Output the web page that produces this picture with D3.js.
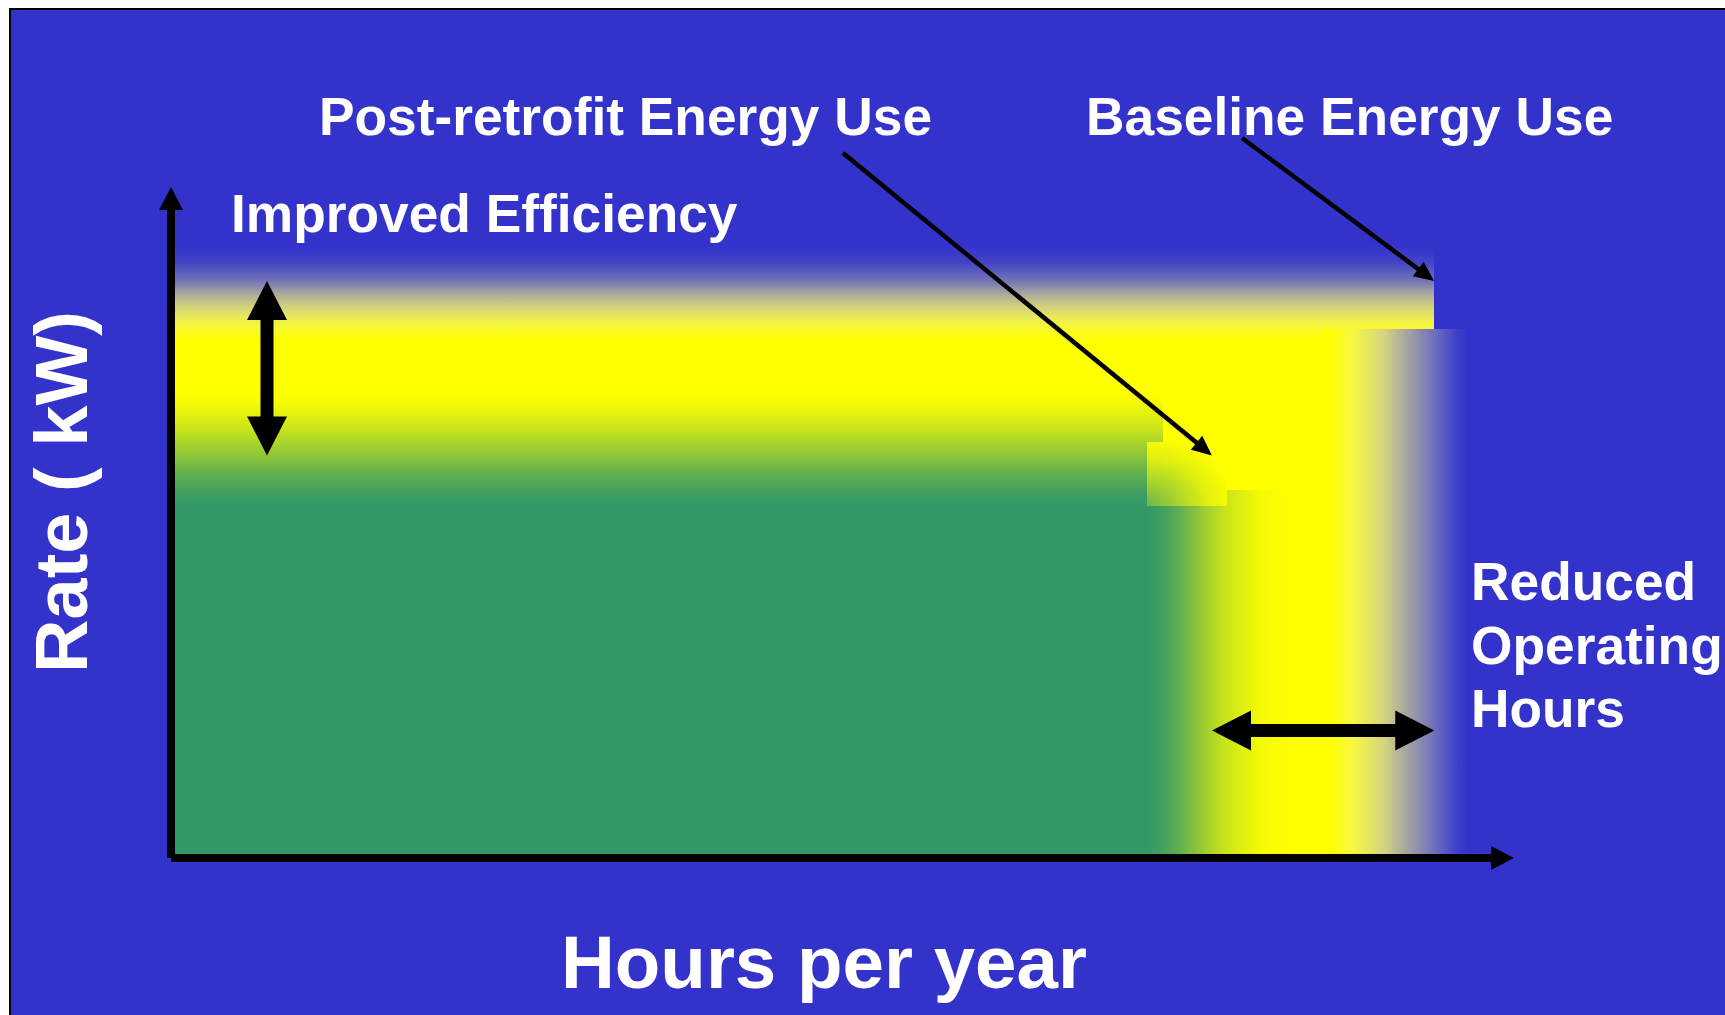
<!DOCTYPE html>
<html>
<head>
<meta charset="utf-8">
<script src="https://cdn.jsdelivr.net/npm/d3@7"></script>
<style>
  html, body { margin: 0; padding: 0; background: #ffffff; overflow: hidden; }
</style>
</head>
<body>
<svg id="chart" width="1725" height="1015"></svg>
<script>
// Energy-savings diagram: baseline vs. post-retrofit demand (kW) over annual operating hours
const hourExtent = [0, 8760];
const rateExtent = [0, 100];
const scenarios = ["Baseline Energy Use", "Post-retrofit Energy Use"];
const scenarioHours = [8240, 6790];
const scenarioRate = [86, 60];
const axisTitles = ["Hours per year", "Rate ( kW)"];
const efficiencyLabel = ["Improved Efficiency"];
const hoursLabel = ["Reduced", "Operating", "Hours"];

const W = 1725, H = 1015;
const BLUE = "#3333cc", YELLOW = "#ffff00", GREEN = "#339966";
const FONT = "'Liberation Sans', Arial, Helvetica, sans-serif";

const svg = d3.select("#chart");
const x = d3.scaleLinear().domain(hourExtent).range([171, 1514]);
const y = d3.scaleLinear().domain(rateExtent).range([858, 187]);

// slide panel
svg.append("rect")
  .attr("x", 10).attr("y", 9).attr("width", W).attr("height", H)
  .attr("fill", BLUE).attr("stroke", "#000").attr("stroke-width", 2);

const defs = svg.append("defs");
function ramp(id, stops, x1, y1, x2, y2) {
  const g = defs.append("linearGradient").attr("id", id)
    .attr("x1", x1).attr("y1", y1).attr("x2", x2).attr("y2", y2);
  stops.forEach(([o, c, a]) => g.append("stop")
    .attr("offset", o).attr("stop-color", c).attr("stop-opacity", a == null ? 1 : a));
}
// soft edge of the baseline block, blue panel -> yellow
ramp("yellowTop", [
  [0, BLUE], [0.18, "rgb(68,68,198)"], [0.38, "rgb(120,120,180)"], [0.5, "rgb(168,168,158)"],
  [0.62, "rgb(206,206,128)"], [0.76, "rgb(236,236,88)"], [0.9, "rgb(251,251,35)"], [1, YELLOW]
], 0, 0, 0, 1);
ramp("yellowRight", [
  [0, BLUE], [0.06, "rgb(60,60,202)"], [0.24, "rgb(115,115,190)"], [0.42, "rgb(165,165,162)"],
  [0.58, "rgb(213,213,128)"], [0.79, "rgb(247,247,68)"], [0.95, YELLOW], [1, YELLOW]
], 1, 0, 0, 0);
// soft edge of the post-retrofit block, green over yellow
ramp("greenTop", [[0, 0], [0.1, 0.04], [0.32, 0.25], [0.52, 0.5], [0.75, 0.8], [0.9, 0.94], [1, 1]]
  .map(([o, a]) => [o, GREEN, a]), 0, 0, 0, 1);
ramp("greenRight", [[0, 0], [0.22, 0.05], [0.45, 0.25], [0.62, 0.5], [0.76, 0.75], [0.9, 0.93], [1, 1]]
  .map(([o, a]) => [o, GREEN, a]), 1, 0, 0, 0);
const corner = defs.append("radialGradient").attr("id", "greenCorner")
  .attr("cx", 0).attr("cy", 1).attr("r", 1.1).attr("fx", 0).attr("fy", 1);
[[0, 0.72], [0.35, 0.42], [0.7, 0.14], [1, 0]].forEach(([o, a]) =>
  corner.append("stop").attr("offset", o).attr("stop-color", GREEN).attr("stop-opacity", a));

const r = Math.round;
const x0 = r(x(0)), y0 = r(y(0));
const area = svg.append("g").attr("shape-rendering", "crispEdges");

function block(x_, y_, w, h, fill) {
  area.append("rect").attr("x", r(x_)).attr("y", r(y_))
    .attr("width", r(x_ + w) - r(x_)).attr("height", r(y_ + h) - r(y_)).attr("fill", fill);
}

// baseline block (yellow)
const bx = x(scenarioHours[0]), by = y(scenarioRate[0]);
block(x0, by - 35, bx - x0, 95, "url(#yellowTop)");
block(x0, by + 58, bx - 111 - x0, y0 - (by + 58), YELLOW);
block(bx - 111, by + 48, 144, y0 - (by + 48), "url(#yellowRight)");

// post-retrofit block (green)
const px = x(scenarioHours[1]), py = y(scenarioRate[1]);
block(x0, py - 64, px - 49 - x0, 114, "url(#greenTop)");
block(x0, py + 48, px - 64 - x0, y0 - (py + 48), GREEN);
block(px - 64, py + 35, 144, y0 - (py + 35), "url(#greenRight)");
block(px - 65, py - 13, 80, 64, YELLOW);
block(px - 65, py - 13, 80, 64, "url(#greenCorner)");

// arrow helpers
function head(g, tipX, tipY, dx, dy, len, half) {
  const n = Math.hypot(dx, dy), ux = dx / n, uy = dy / n;
  const bx_ = tipX - ux * len, by_ = tipY - uy * len;
  g.append("polygon").attr("fill", "#000")
    .attr("points", [[tipX, tipY], [bx_ - uy * half, by_ + ux * half], [bx_ + uy * half, by_ - ux * half]].join(" "));
  return [bx_, by_];
}
function arrow(g, x1, y1, x2, y2, w, len, half, both) {
  const dx = x2 - x1, dy = y2 - y1, n = Math.hypot(dx, dy);
  const end = head(g, x2, y2, dx, dy, len, half);
  let start = [x1, y1];
  if (both) start = head(g, x1, y1, -dx, -dy, len, half);
  g.append("line").attr("x1", start[0]).attr("y1", start[1])
    .attr("x2", end[0] + dx / n).attr("y2", end[1] + dy / n)
    .attr("stroke", "#000").attr("stroke-width", w);
}

// axes
const axes = svg.append("g");
axes.append("line").attr("x1", x0).attr("y1", y0).attr("x2", x0).attr("y2", y(rateExtent[1]) + 22)
  .attr("stroke", "#000").attr("stroke-width", 8);
head(axes, x0, y(rateExtent[1]), 0, -1, 23, 12);
axes.append("line").attr("x1", x0).attr("y1", y0).attr("x2", x(hourExtent[1]) - 22).attr("y2", y0)
  .attr("stroke", "#000").attr("stroke-width", 8);
head(axes, x(hourExtent[1]), y0, 1, 0, 23, 12);

// savings arrows
const marks = svg.append("g");
arrow(marks, x0 + 96, by, x0 + 96, py, 13, 39, 20, true);
arrow(marks, px, y(19), bx, y(19), 13, 39, 20, true);

// pointer lines from labels to block corners
arrow(marks, 843, 153, px, py, 4.5, 20, 9, false);
arrow(marks, 1242, 138, bx, by, 4.5, 20, 9, false);

// text
const text = svg.append("g").attr("font-family", FONT).attr("font-weight", "bold").attr("fill", "#ffffff");
text.append("text").attr("x", 319).attr("y", 135).attr("font-size", 53.3).text(scenarios[1]);
text.append("text").attr("x", 1086).attr("y", 135).attr("font-size", 53.3).text(scenarios[0]);
text.append("text").attr("x", 231).attr("y", 232).attr("font-size", 53.3).text(efficiencyLabel[0]);
hoursLabel.forEach((t, i) =>
  text.append("text").attr("x", 1471).attr("y", 600 + i * 63.5).attr("font-size", 53.3).text(t));
text.append("text").attr("x", 824).attr("y", 988).attr("font-size", 74.5)
  .attr("text-anchor", "middle").text(axisTitles[0]);
text.append("text").attr("transform", "translate(87,492) rotate(-90)")
  .attr("font-size", 74).attr("text-anchor", "middle").text(axisTitles[1]);
</script>
</body>
</html>
